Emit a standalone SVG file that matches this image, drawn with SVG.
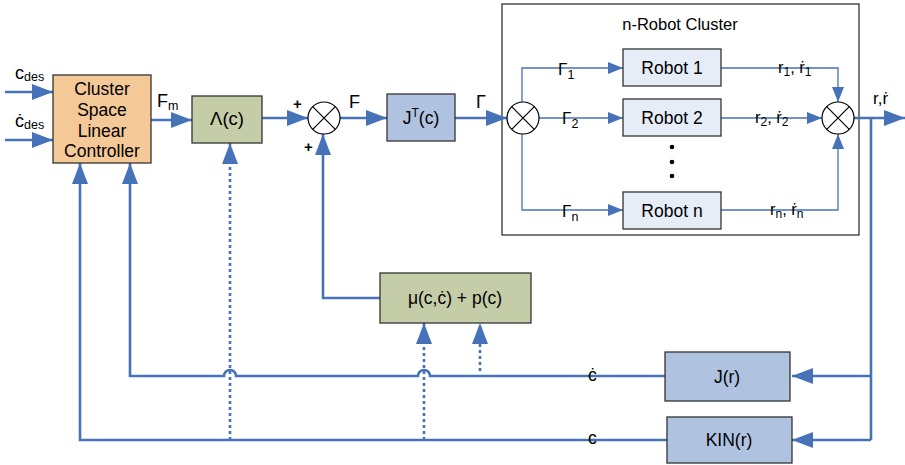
<svg xmlns="http://www.w3.org/2000/svg" width="905" height="465" viewBox="0 0 905 465">
<defs>
<marker id="ah" markerUnits="userSpaceOnUse" markerWidth="22" markerHeight="16" refX="21" refY="8" orient="auto"><path d="M0,0 L21,8 L0,16 z" fill="#4672B8"/></marker>
<marker id="as" markerUnits="userSpaceOnUse" markerWidth="16" markerHeight="12" refX="15" refY="6" orient="auto"><path d="M0,0 L15,6 L0,12 z" fill="#4672B8"/></marker>
</defs>
<style>
text{font-family:"Liberation Sans",Arial,sans-serif;fill:#000}
.box{stroke:#333;stroke-width:1.3}
.ctrl{fill:#F4C897}
.grn{fill:#C5CDA8}
.blu{fill:#AFC3E1}
.rob{fill:#E6EDF7}
.thick{fill:none;stroke:#4672B8;stroke-width:2.6}
.thin{fill:none;stroke:#4672B8;stroke-width:1.3}
.dot{fill:none;stroke:#4672B8;stroke-width:2.6;stroke-dasharray:3 3}
.sum circle{fill:#fff;stroke:#000;stroke-width:1.2}
.sum path{stroke:#000;stroke-width:1.2}
.t16{font-size:16px}
.t17{font-size:17.5px}
.mid{text-anchor:middle}
</style>

<g id="cluster-frame">
<rect x="502" y="4" width="357" height="231" fill="#fff" stroke="#333" stroke-width="1.3"/>
<text x="680" y="30" class="mid" font-size="16.5">n-Robot Cluster</text>
</g>

<g id="connectors">
<path class="thick" d="M5,92 H53" marker-end="url(#ah)"/>
<path class="thick" d="M5,140 H53" marker-end="url(#ah)"/>
<path class="thick" d="M151,120 H192" marker-end="url(#ah)"/>
<path class="thick" d="M262,118 H308" marker-end="url(#ah)"/>
<path class="thick" d="M340,118 H387" marker-end="url(#ah)"/>
<path class="thick" d="M455,118 H507" marker-end="url(#ah)"/>
<path class="thin" d="M522,102 V68 H623" marker-end="url(#as)"/>
<path class="thin" d="M539,118 H623" marker-end="url(#as)"/>
<path class="thin" d="M522,134 V210 H623" marker-end="url(#as)"/>
<path class="thin" d="M721,68 H838 V102" marker-end="url(#as)"/>
<path class="thin" d="M721,118 H822" marker-end="url(#as)"/>
<path class="thin" d="M721,210 H838 V134" marker-end="url(#as)"/>
<path class="thick" d="M854,118 H905" marker-end="url(#ah)"/>
<path class="thick" d="M871,118 V440"/>
<path class="thick" d="M871,376 H792" marker-end="url(#ah)"/>
<path class="thick" d="M871,440 H792" marker-end="url(#ah)"/>
<path class="thick" d="M665,376 H430 A6,6 0 0 0 418,376 H236 A6,6 0 0 0 224,376 H130 V163" marker-end="url(#ah)"/>
<path class="thick" d="M667,440 H80 V163" marker-end="url(#ah)"/>
<path class="thick" d="M380,298 H323 V134" marker-end="url(#ah)"/>
<path class="dot" d="M230,440 V143" marker-end="url(#ah)"/>
<path class="dot" d="M424,440 V323" marker-end="url(#ah)"/>
<path class="dot" d="M480,371 V323" marker-end="url(#ah)"/>
</g>

<g id="labels">
<text x="15" y="79" font-size="18">c<tspan font-size="12.5" dy="2">des</tspan></text>
<text x="15" y="127" font-size="18">ċ<tspan font-size="12.5" dy="2">des</tspan></text>
<text x="157" y="107" font-size="18">F<tspan font-size="12.5" dy="3">m</tspan></text>
<text x="293" y="109" font-size="15" font-weight="bold">+</text>
<text x="304" y="152" font-size="15" font-weight="bold">+</text>
<text x="349" y="108" font-size="18">F</text>
<text x="476" y="108" font-size="18">Γ</text>
<text x="558" y="75" font-size="17">Γ<tspan font-size="12.5" dy="4">1</tspan></text>
<text x="562" y="124" font-size="17">Γ<tspan font-size="12.5" dy="4">2</tspan></text>
<text x="562" y="217" font-size="17">Γ<tspan font-size="12.5" dy="4">n</tspan></text>
<text x="778" y="73" font-size="16.5">r<tspan font-size="12" dy="3">1</tspan><tspan dy="-3">, ṙ</tspan><tspan font-size="12" dy="3">1</tspan></text>
<text x="755" y="123" font-size="16.5">r<tspan font-size="12" dy="3">2</tspan><tspan dy="-3">, ṙ</tspan><tspan font-size="12" dy="3">2</tspan></text>
<text x="770" y="215" font-size="16.5">r<tspan font-size="12" dy="3">n</tspan><tspan dy="-3">, ṙ</tspan><tspan font-size="12" dy="3">n</tspan></text>
<text x="873" y="104" font-size="17">r,ṙ</text>
<text x="588" y="381" font-size="17.5">ċ</text>
<text x="588" y="444" font-size="17.5">c</text>
<circle cx="672" cy="147" r="2.3" fill="#000"/>
<circle cx="672" cy="162" r="2.3" fill="#000"/>
<circle cx="672" cy="176" r="2.3" fill="#000"/>
</g>

<g id="controller">
<rect class="box ctrl" x="53" y="75" width="98" height="88"/>
<text x="102" y="95" class="t17 mid">Cluster</text>
<text x="102" y="116" class="t17 mid">Space</text>
<text x="102" y="137" class="t17 mid">Linear</text>
<text x="102" y="157" class="t17 mid">Controller</text>
</g>

<g id="lambda">
<rect class="box grn" x="192" y="96" width="70" height="47"/>
<text x="227" y="125" class="mid" font-size="18.5">Λ(c)</text>
</g>

<g id="sum1" class="sum">
<circle cx="324" cy="118" r="16"/>
<path d="M312.7,106.7 L335.3,129.3 M335.3,106.7 L312.7,129.3"/>
</g>

<g id="jt">
<rect class="box blu" x="387" y="94" width="68" height="47"/>
<text x="421" y="124" class="t17 mid">J<tspan font-size="12" dy="-7">T</tspan><tspan dy="7">(c)</tspan></text>
</g>

<g id="sum2" class="sum">
<circle cx="523" cy="118" r="16"/>
<path d="M511.7,106.7 L534.3,129.3 M534.3,106.7 L511.7,129.3"/>
</g>

<g id="robot1">
<rect class="box rob" x="623" y="49" width="98" height="37"/>
<text x="672" y="74" class="t17 mid">Robot 1</text>
</g>
<g id="robot2">
<rect class="box rob" x="623" y="99" width="98" height="37"/>
<text x="672" y="124" class="t17 mid">Robot 2</text>
</g>
<g id="robotn">
<rect class="box rob" x="623" y="192" width="98" height="37"/>
<text x="672" y="217" class="t17 mid">Robot n</text>
</g>

<g id="sum3" class="sum">
<circle cx="838" cy="118" r="16"/>
<path d="M826.7,106.7 L849.3,129.3 M849.3,106.7 L826.7,129.3"/>
</g>

<g id="mu">
<rect class="box grn" x="380" y="273" width="151" height="50"/>
<text x="455" y="304" class="t17 mid">μ(c,ċ) + p(c)</text>
</g>

<g id="jr">
<rect class="box blu" x="665" y="352" width="125" height="49"/>
<text x="727" y="383" class="t17 mid">J(r)</text>
</g>

<g id="kin">
<rect class="box blu" x="667" y="417" width="125" height="46"/>
<text x="729" y="446" class="t17 mid">KIN(r)</text>
</g>
</svg>
